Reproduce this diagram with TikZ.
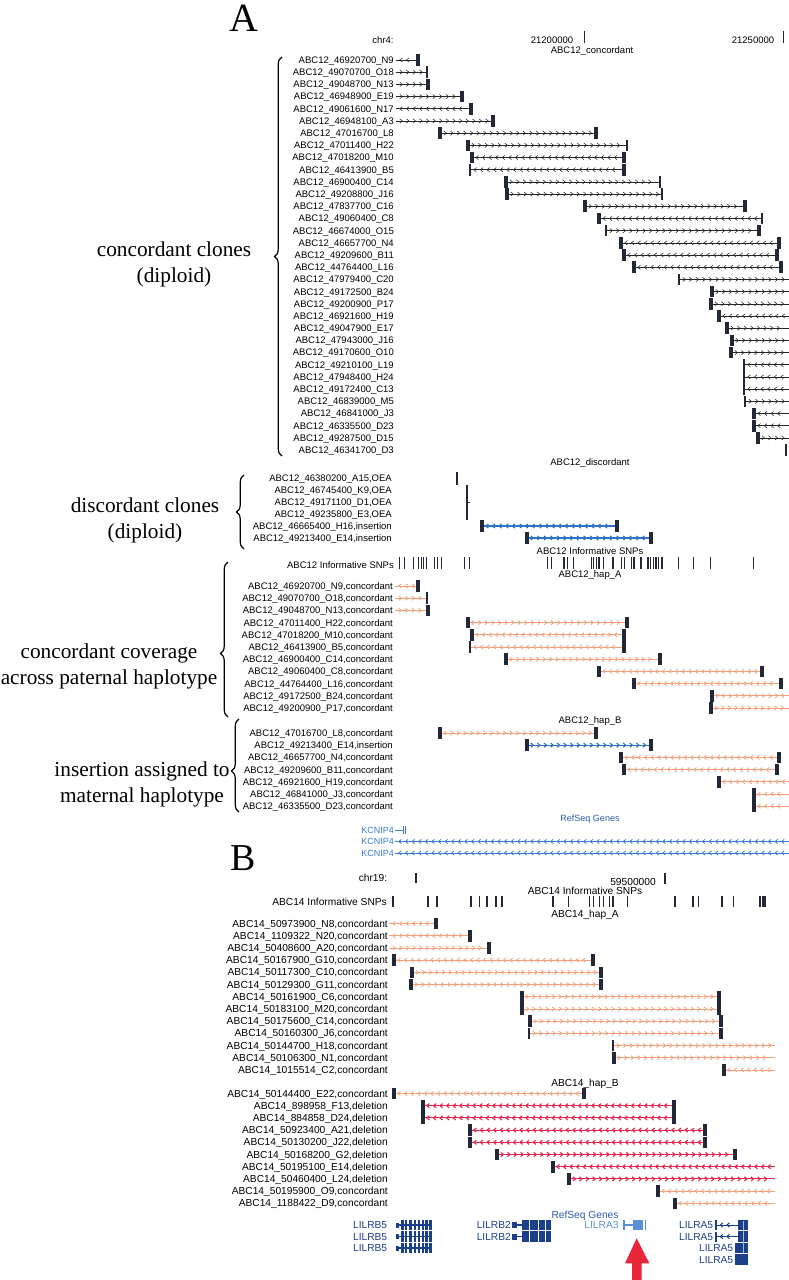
\documentclass[tikz,border=0pt]{standalone}
\usepackage{fontspec}
\setmainfont{Liberation Serif}
\setsansfont{Liberation Sans}
\usetikzlibrary{decorations.pathreplacing}
\definecolor{blockc}{HTML}{222838}
\definecolor{hapc}{HTML}{F4A07C}
\definecolor{insc}{HTML}{2F73C4}
\definecolor{delc}{HTML}{E3284F}
\definecolor{genec}{HTML}{1C3F8A}
\definecolor{refc}{HTML}{2A5BA8}
\definecolor{kcnc}{HTML}{3B7CD0}
\definecolor{lila}{HTML}{5A90D8}
\definecolor{arrowc}{HTML}{E8253A}
% line of a clone with its strand chevrons
\newcommand{\chev}[5]{%
  \draw[#5] (#2,#1) -- (#3,#1);
  \pgfmathtruncatemacro{\nch}{(#3-#2-3)/6.6}
  \ifnum\nch>0
    \foreach \k in {1,...,\nch}{
      \pgfmathsetmacro{\cx}{#2+6.6*\k-1.5}
      \pgfmathsetmacro{\ca}{\cx-1.3*(#4)}
      \pgfmathsetmacro{\cb}{\cx+1.3*(#4)}
      \draw[#5] (\ca,#1-2.1) -- (\cb,#1) -- (\ca,#1+2.1);
    }
  \fi}
% end of a clone: 0 none, 1 thin bar, 2 block
\newcommand{\barend}[3]{%
  \ifcase#3\relax
  \or\fill[blockc] (#1-0.6,#2-5.8) rectangle (#1+0.6,#2+5.8);
  \or\fill[blockc] (#1-1.8,#2-5.8) rectangle (#1+1.8,#2+5.8);
  \fi}
\newcommand{\clone}[7]{\chev{#1}{#2}{#4}{#6}{#7}\barend{#2}{#1}{#3}\barend{#4}{#1}{#5}}
\newcommand{\exon}[3]{\fill[#3] (#1-5.3) rectangle (#2+5.3);}

\begin{document}
\begin{tikzpicture}[x=1pt,y=-1pt,
  lblA/.style={font=\sffamily\fontsize{9.5}{10}\selectfont,inner sep=0pt,anchor=base east},
  lblB/.style={font=\sffamily\fontsize{10.2}{11}\selectfont,inner sep=0pt,anchor=base east},
  ttl/.style={font=\sffamily\fontsize{9.5}{10}\selectfont,inner sep=0pt,anchor=base},
  ttlB/.style={font=\sffamily\fontsize{10.2}{11}\selectfont,inner sep=0pt,anchor=base},
  gene/.style={font=\sffamily\fontsize{10.2}{11}\selectfont,inner sep=0pt,anchor=base east,genec},
  big/.style={font=\fontsize{21.3}{26}\selectfont,inner sep=0pt,align=center},
  brc/.style={decorate,decoration={brace,amplitude=7.5pt},line width=1.2pt},
  conread/.style={black!85,line width=0.55pt},
  hapread/.style={hapc,line width=0.8pt},
  insread/.style={insc,line width=1.1pt},
  delread/.style={delc,line width=1.1pt},
  kcnread/.style={kcnc,line width=0.8pt}]
\useasboundingbox (0,0) rectangle (789,1280);
\fill[white] (0,0) rectangle (789,1280);

% panel A header
\node[font=\fontsize{40}{40}\selectfont,inner sep=0pt] (panA) at (244,18) {A};
\node[ttl] (chrA) at (383,43.3) {chr4:};
\node[ttl] (posA1) at (552,43.3) {21200000};
\draw[blockc,line width=1pt] (584,31) -- (584,43);
\node[ttl] (posA2) at (753,43.3) {21250000};
\draw[blockc,line width=1pt] (783,31) -- (783,43);
\node[ttl] (trkcon) at (592,53.3) {ABC12\_concordant};

% concordant clones
\foreach \nm/\xl/\el/\xr/\er/\dr [count=\rw] in {
  46920700\_N9/396/0/418/2/-1, 49070700\_O18/396/0/427/1/1,
  49048700\_N13/396/0/428/2/1, 46948900\_E19/396/0/462/2/1,
  49061600\_N17/396/0/471/2/-1, 46948100\_A3/396/0/493/2/1,
  47016700\_L8/440/2/596/2/1, 47011400\_H22/468/2/627/1/1,
  47018200\_M10/472/2/624/2/-1, 46413900\_B5/470/1/624/2/-1,
  46900400\_C14/506/2/660/1/1, 49208800\_J16/507/2/662/1/1,
  47837700\_C16/585/2/745/2/1, 49060400\_C8/599/2/762/1/-1,
  46674000\_O15/606/1/759/2/1, 46657700\_N4/621/2/779/2/-1,
  49209600\_B11/624/2/777/2/-1, 44764400\_L16/634/2/781/2/-1,
  47979400\_C20/679/1/789/0/1, 49172500\_B24/712/2/789/0/1,
  49200900\_P17/711/2/789/0/1, 46921600\_H19/719/2/789/0/-1,
  49047900\_E17/727/2/789/0/1, 47943000\_J16/732/2/789/0/1,
  49170600\_O10/731/2/789/0/1, 49210100\_L19/744/1/789/0/-1,
  47948400\_H24/744/1/789/0/-1, 49172400\_C13/744/1/789/0/-1,
  46839000\_M5/745/1/789/0/1, 46841000\_J3/754/2/789/0/-1,
  46335500\_D23/754/2/789/0/-1, 49287500\_D15/758/2/789/0/1,
  46341700\_D3/786/1/786/0/1}{
  \pgfmathsetmacro{\ry}{60+12.19*(\rw-1)}
  \node[lblA] (ca\rw) at (394,\ry+3.4) {ABC12\_\nm};
  \clone{\ry}{\xl}{\el}{\xr}{\er}{\dr}{conread}
}

% discordant clones
\node[ttl] (trkdis) at (590,465.3) {ABC12\_discordant};
\foreach \nm/\kind [count=\rw] in {46380200\_A15/OEA, 46745400\_K9/OEA,
  49171100\_D1/OEA, 49235800\_E3/OEA, 46665400\_H16/insertion, 49213400\_E14/insertion}{
  \pgfmathsetmacro{\ry}{478+12*(\rw-1)}
  \node[lblA] (da\rw) at (392,\ry+3.4) {ABC12\_\nm,\kind};
}
\fill[blockc] (456.4,472) rectangle (457.6,485);
\fill[blockc] (466.4,485) rectangle (467.6,520);
\draw[blockc,line width=0.6pt] (467,502) -- (470,502);
\clone{526}{482}{2}{617}{2}{-1}{insread}
\clone{538}{527}{2}{651}{2}{1}{insread}

% informative SNPs
\node[ttl] (trksnpA) at (590,554.3) {ABC12 Informative SNPs};
\node[lblA] (snpA) at (394,568.4) {ABC12 Informative SNPs};
\foreach \sx in {399.3,404.6,413.3,418.6,421.4,423.8,426.6,434.3,437.8,441.3,464.8,469.3,
  547.4,551.6,563.9,567.4,573.3,591.2,593.6,596.4,598.9,603.4,612.9,621.7,624.5,631.1,
  633.9,640.9,647.9,650.4,653.2,656,658.4,661.9,678.7,693.4,710.2,753.6}
  {\fill[blockc] (\sx-0.6,557) rectangle (\sx+0.6,569);}

% haplotype A
\node[ttl] (trkhapA) at (590,577.3) {ABC12\_hap\_A};
\foreach \nm/\xl/\el/\xr/\er/\dr [count=\rw] in {
  46920700\_N9/395/0/418/2/-1, 49070700\_O18/395/0/427/1/1,
  49048700\_N13/395/0/428/2/1, 47011400\_H22/468/2/627/2/1,
  47018200\_M10/472/2/624/2/-1, 46413900\_B5/470/1/624/2/-1,
  46900400\_C14/506/2/660/2/1, 49060400\_C8/599/2/762/2/-1,
  44764400\_L16/634/2/781/2/-1, 49172500\_B24/712/2/789/0/1,
  49200900\_P17/711/2/789/0/1}{
  \pgfmathsetmacro{\ry}{586+12.2*(\rw-1)}
  \node[lblA] (ha\rw) at (393,\ry+3.4) {ABC12\_\nm,concordant};
  \clone{\ry}{\xl}{\el}{\xr}{\er}{\dr}{hapread}
}

% haplotype B
\node[ttl] (trkhapB) at (590,723.3) {ABC12\_hap\_B};
\foreach \nm/\kind/\xl/\el/\xr/\er/\dr/\st [count=\rw] in {
  47016700\_L8/concordant/440/2/596/2/1/hapread,
  49213400\_E14/insertion/527/2/651/2/1/insread,
  46657700\_N4/concordant/621/2/779/2/-1/hapread,
  49209600\_B11/concordant/624/2/777/2/-1/hapread,
  46921600\_H19/concordant/719/2/789/0/-1/hapread,
  46841000\_J3/concordant/754/2/789/0/-1/hapread,
  46335500\_D23/concordant/754/2/789/0/-1/hapread}{
  \pgfmathsetmacro{\ry}{733+12.2*(\rw-1)}
  \node[lblA] (hb\rw) at (393,\ry+3.4) {ABC12\_\nm,\kind};
  \clone{\ry}{\xl}{\el}{\xr}{\er}{\dr}{\st}
}

% genes A
\node[ttl,refc,font=\sffamily\fontsize{9}{10}\selectfont] (refA) at (590,821.3) {RefSeq Genes};
\foreach \gy/\gx [count=\rw] in {830/404, 841.5/789, 853/789}{
  \node[lblA,kcnc,font=\sffamily\fontsize{9}{10}\selectfont] (kc\rw) at (394,\gy+3.2) {KCNIP4};
  \chev{\gy}{395}{\gx}{-1}{kcnread}
}
\fill[kcnc] (402.5,826) rectangle (403.7,834);
\fill[kcnc] (405,826) rectangle (406.2,834);

% side labels A
\node[big] (tconc) at (174,264) {concordant clones\\(diploid)};
\draw[brc] (282,456) -- (282,57);
\node[big] (tdisc) at (145,520) {discordant clones\\(diploid)};
\draw[brc] (244,549) -- (244,475);
\node[big] (tcov) at (109,666) {concordant coverage\\across paternal haplotype};
\draw[brc,decoration={aspect=0.41}] (228,717) -- (228,562);
\node[big] (tins) at (142,784) {insertion assigned to\\maternal haplotype};
\draw[brc,decoration={aspect=0.44}] (239,812) -- (239,719);

% panel B header
\node[font=\fontsize{38}{38}\selectfont,inner sep=0pt] (panB) at (243,858) {B};
\node[ttlB] (chrB) at (373,881.6) {chr19:};
\draw[blockc,line width=1.2pt] (416,872.7) -- (416,883.3);
\node[ttlB] (posB) at (633,885.3) {59500000};
\draw[blockc,line width=1.2pt] (665,873) -- (665,884);
\node[ttlB] (trksnpB) at (585,894.3) {ABC14 Informative SNPs};
\node[lblB] (snpB) at (387,905.6) {ABC14 Informative SNPs};
\foreach \sx in {392.7,427.7,436.7,471,479.3,486.7,496,501.7,552.7,568.3,589.3,593.3,
  599.3,603.3,609.3,612.7,627.3,675,692.7,698.3,721.7,733.3,760,762.7,765}
  {\fill[blockc] (\sx-0.8,896) rectangle (\sx+0.8,907);}

% haplotype A, panel B
\node[ttlB] (trkhapBa) at (585,917.6) {ABC14\_hap\_A};
\foreach \nm/\xl/\el/\xr/\er/\dr [count=\rw] in {
  50973900\_N8/389/0/436/2/-1, 1109322\_N20/389/0/470/2/-1,
  50408600\_A20/389/0/489/2/1, 50167900\_G10/394/2/593/2/-1,
  50117300\_C10/412/2/601/2/1, 50129300\_G11/411/2/601/2/1,
  50161900\_C6/522/2/719/2/1, 50183100\_M20/522/2/719/2/1,
  50175600\_C14/530/2/721/2/1, 50160300\_J6/529/1/721/2/1,
  50144700\_H18/613/1/775/0/1, 50106300\_N1/614/2/775/0/1,
  1015514\_C2/724/2/775/0/-1}{
  \pgfmathsetmacro{\ry}{923.5+12.2*(\rw-1)}
  \node[lblB] (ba\rw) at (388,\ry+3.6) {ABC14\_\nm,concordant};
  \clone{\ry}{\xl}{\el}{\xr}{\er}{\dr}{hapread}
}

% haplotype B, panel B
\node[ttlB] (trkhapBb) at (585,1086.3) {ABC14\_hap\_B};
\foreach \nm/\kind/\xl/\el/\xr/\er/\dr/\st [count=\rw] in {
  50144400\_E22/concordant/394/2/584/2/-1/hapread,
  898958\_F13/deletion/423/2/674/2/-1/delread,
  884858\_D24/deletion/423/2/674/2/-1/delread,
  50923400\_A21/deletion/470/2/705/2/-1/delread,
  50130200\_J22/deletion/470/2/705/2/-1/delread,
  50168200\_G2/deletion/497/2/735/2/1/delread,
  50195100\_E14/deletion/553/2/775/0/-1/delread,
  50460400\_L24/deletion/569/2/775/0/1/delread,
  50195900\_O9/concordant/658/2/775/0/-1/hapread,
  1188422\_D9/concordant/675/2/775/0/-1/hapread}{
  \pgfmathsetmacro{\ry}{1093.5+12.2*(\rw-1)}
  \node[lblB] (bb\rw) at (388,\ry+3.6) {ABC14\_\nm,\kind};
  \clone{\ry}{\xl}{\el}{\xr}{\er}{\dr}{\st}
}

% genes B
\node[ttlB,refc] (refB) at (585,1218.6) {RefSeq Genes};
\foreach \gy [count=\rw] in {1225,1236.5,1248}{
  \node[gene] (lb5\rw) at (387.3,\gy+3.6) {LILRB5};
  \draw[genec,line width=1.2pt] (396,\gy) -- (432,\gy);
  \fill[genec] (396,\gy-2.5) rectangle (399,\gy+2.5);
  \foreach \ea/\eb in {400.5/403.5,405/407,409/411.5,413.5/416,418/420,421.5/423.5,425/427.5,429/432}
    {\exon{\ea,\gy}{\eb,\gy}{genec}}
}
\foreach \gy [count=\rw] in {1225,1236.5}{
  \node[gene] (lb2\rw) at (511,\gy+3.6) {LILRB2};
  \draw[genec,line width=1.2pt] (512,\gy) -- (522,\gy);
  \fill[genec] (512,\gy-3) rectangle (516.5,\gy+3);
  \foreach \ea/\eb in {521.7/529,530/538,539/545,546/550.7}
    {\exon{\ea,\gy}{\eb,\gy}{genec}}
}
\node[gene,lila] (la3) at (618.7,1228.6) {LILRA3};
\draw[lila,line width=1.2pt] (622.7,1225) -- (643,1225);
\fill[lila] (622.7,1220) rectangle (624.5,1230);
\exon{633,1225}{643,1225}{lila}
\fill[lila] (644.5,1220) rectangle (646,1230);
\foreach \gy [count=\rw] in {1225,1236.5}{
  \node[gene] (la5\rw) at (713.3,\gy+3.6) {LILRA5};
  \fill[genec] (714.5,\gy-5) rectangle (716.5,\gy+5);
  \chev{\gy}{716.5}{738}{-1}{genec,line width=1pt}
  \exon{738,\gy}{748,\gy}{genec}
}
\foreach \gy [count=\rw] in {1248,1259.5}{
  \node[gene] (la5b\rw) at (733.3,\gy+3.6) {LILRA5};
  \exon{735,\gy}{748,\gy}{genec}
}
\draw[lila!60,line width=0.6pt] (743,1221) -- (743,1253);

% pointer to LILRA3
\fill[arrowc] (632,1280) -- (632,1263.3) -- (625,1263.3) -- (636.7,1238.3)
  -- (649.3,1263.3) -- (641.7,1263.3) -- (641.7,1280) -- cycle;
\end{tikzpicture}
\end{document}
